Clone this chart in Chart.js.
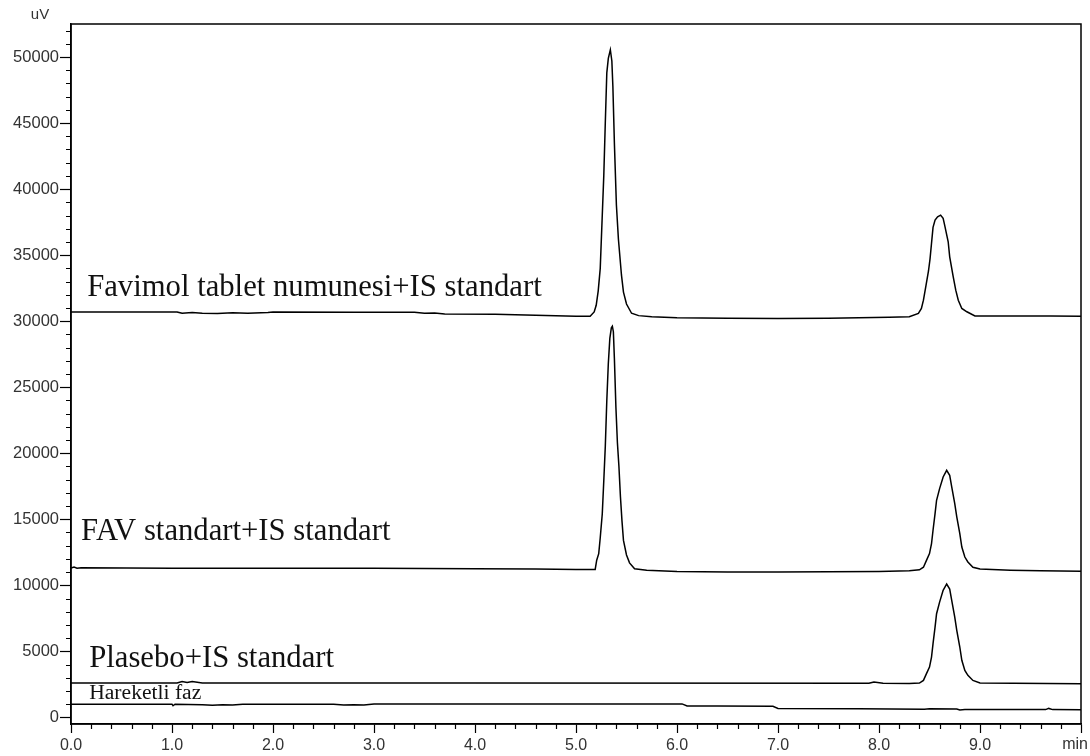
<!DOCTYPE html>
<html>
<head>
<meta charset="utf-8">
<script src="https://cdn.jsdelivr.net/npm/chart.js@4.4.1/dist/chart.umd.min.js"></script>
<style>
  html, body { margin: 0; padding: 0; background: #fff; }
  #wrap { width: 1090px; height: 756px; position: relative; }
</style>
</head>
<body>
<div id="wrap"><canvas id="c"></canvas></div>
<script>
// ---- data (time in min, signal in uV) ----
const favimolT = [0, 0.5, 1.05, 1.1, 1.2, 1.3, 1.45, 1.6, 1.75, 1.95, 2.0, 2.8, 3.4, 3.5, 3.6, 3.7, 4.2, 4.6, 5.0, 5.14,
  5.18, 5.20, 5.22, 5.24, 5.26, 5.275, 5.29, 5.305, 5.32, 5.34, 5.355, 5.365, 5.38, 5.40, 5.42, 5.45, 5.47, 5.50, 5.55, 5.62,
  5.75, 6.0, 6.5, 7.0, 7.5, 7.8, 8.1, 8.3, 8.39, 8.42, 8.44, 8.465, 8.49, 8.505, 8.52, 8.535, 8.555, 8.58, 8.61, 8.635,
  8.65, 8.685, 8.70, 8.735, 8.76, 8.785, 8.82, 8.87, 8.95, 9.3, 9.7, 10.0];
const favimolV = [30700, 30700, 30700, 30600, 30650, 30600, 30580, 30640, 30600, 30650, 30700, 30680, 30680, 30600, 30620, 30550, 30530, 30450, 30380, 30380,
  30700, 31200, 32300, 34000, 38000, 41000, 45000, 48800, 49900, 50550, 49700, 47800, 43500, 38800, 36200, 33500, 32200, 31300, 30600, 30420,
  30330, 30250, 30220, 30200, 30230, 30260, 30300, 30330, 30580, 30960, 31590, 32700, 33800, 34700, 35900, 37100, 37650, 37900, 38030, 37780,
  37270, 36010, 34870, 33360, 32350, 31590, 30960, 30710, 30400, 30400, 30400, 30380];

const favT = [0, 0.03, 0.06, 0.1, 1.0, 2.0, 3.0, 4.0, 4.6, 5.0, 5.19, 5.205, 5.225, 5.24, 5.26, 5.275, 5.29, 5.305, 5.32, 5.335,
  5.35, 5.36, 5.37, 5.38, 5.395, 5.41, 5.425, 5.44, 5.455, 5.47, 5.50, 5.53, 5.58, 5.70, 6.0, 6.5, 7.0, 7.5, 8.0, 8.3,
  8.40, 8.44, 8.47, 8.50, 8.52, 8.535, 8.555, 8.57, 8.60, 8.635, 8.67, 8.70, 8.72, 8.75, 8.77, 8.80, 8.82, 8.85, 8.88, 8.93,
  9.0, 9.3, 9.6, 10.0];
const favV = [11300, 11380, 11300, 11330, 11300, 11290, 11290, 11260, 11230, 11200, 11200, 11900, 12400, 13600, 15400, 17900, 20500, 24000, 26800, 28700,
  29500, 29620, 29200, 27200, 23500, 20800, 19000, 16700, 14900, 13400, 12300, 11700, 11250, 11150, 11050, 11000, 11000, 11020, 11050, 11100,
  11170, 11370, 11890, 12400, 13160, 14170, 15430, 16440, 17320, 18200, 18710, 18330, 17450, 16190, 15180, 13910, 12900, 12140, 11770, 11370,
  11240, 11150, 11100, 11060];

const plaseboT = [0, 1.05, 1.1, 1.15, 1.2, 1.3, 4.0, 7.9, 7.95, 8.04, 8.3, 8.40, 8.44, 8.47, 8.50, 8.52, 8.535, 8.555, 8.57, 8.60,
  8.635, 8.67, 8.70, 8.72, 8.75, 8.77, 8.80, 8.82, 8.85, 8.88, 8.93, 9.0, 10.0];
const plaseboV = [2600, 2600, 2720, 2650, 2720, 2600, 2600, 2580, 2680, 2580, 2560, 2600, 2800, 3310, 3810, 4570, 5580, 6840, 7850, 8730,
  9620, 10100, 9720, 8860, 7600, 6590, 5330, 4320, 3560, 3180, 2800, 2600, 2550];

const mobileT = [0, 1.0, 1.01, 1.03, 1.3, 1.4, 1.5, 1.6, 1.7, 2.6, 2.7, 2.8, 2.9, 3.0, 6.05, 6.1, 6.4, 6.95, 7.0, 7.8,
  8.45, 8.5, 8.77, 8.8, 8.85, 9.65, 9.68, 9.72, 10.0];
const mobileV = [1000, 1000, 880, 1000, 950, 920, 960, 930, 1000, 990, 940, 960, 930, 1020, 1020, 860, 860, 840, 680, 650,
  620, 650, 640, 560, 590, 590, 680, 590, 580];

const traceLabels = ["Favimol tablet numunesi+IS standart", "FAV standart+IS standart", "Plasebo+IS standart", "Hareketli faz"];
const xTickValues = [0, 0.2, 0.4, 0.6, 0.8, 1, 1.2, 1.4, 1.6, 1.8, 2, 2.2, 2.4, 2.6, 2.8, 3, 3.2, 3.4, 3.6, 3.8, 4, 4.2, 4.4, 4.6, 4.8,
  5, 5.2, 5.4, 5.6, 5.8, 6, 6.2, 6.4, 6.6, 6.8, 7, 7.2, 7.4, 7.6, 7.8, 8, 8.2, 8.4, 8.6, 8.8, 9, 9.2, 9.4, 9.6, 9.8, 10];
const xUnit = "min";
const yUnit = "uV";

// ---- helpers ----
const toPts = (T, V) => T.map((t, i) => ({ x: t, y: V[i] }));
const isMajorX = v => Math.abs(v - Math.round(v)) < 1e-6;
const isMajorY = v => v % 5000 === 0;
const TICK_FONT = '"Liberation Sans", Arial, sans-serif';

// label placement (data coords) and sizes – presentation only
const labelPlacement = [
  { t: 0.16, v: 31890, size: 30.7 },
  { t: 0.10, v: 13410, size: 30.7 },
  { t: 0.18, v: 3810, size: 30.7 },
  { t: 0.18, v: 1380, size: 21.6 }
];

const decorPlugin = {
  id: 'decor',
  afterDraw(chart) {
    const { ctx, chartArea: a, scales: { x, y } } = chart;
    ctx.save();
    ctx.strokeStyle = '#000';
    ctx.lineWidth = 1.5;
    // frame
    ctx.strokeRect(a.left, a.top, a.right - a.left, a.bottom - a.top);
    // minor ticks
    ctx.lineWidth = 1.2;
    ctx.beginPath();
    x.ticks.forEach(tk => {
      if (!isMajorX(tk.value)) {
        const px = Math.round(x.getPixelForValue(tk.value)) + 0.5;
        ctx.moveTo(px, a.bottom); ctx.lineTo(px, a.bottom + 5);
      }
    });
    y.ticks.forEach(tk => {
      if (!isMajorY(tk.value)) {
        const py = Math.round(y.getPixelForValue(tk.value)) + 0.5;
        ctx.moveTo(a.left, py); ctx.lineTo(a.left - 5, py);
      }
    });
    ctx.stroke();
    // unit labels
    ctx.fillStyle = '#333';
    ctx.font = '15px ' + TICK_FONT;
    ctx.textAlign = 'center';
    ctx.textBaseline = 'middle';
    ctx.fillText(yUnit, a.left - 31, a.top - 9);
    ctx.font = '16px ' + TICK_FONT;
    ctx.textAlign = 'right';
    ctx.fillText(xUnit, x.getPixelForValue(10) + 7, a.bottom + 21);
    // trace labels
    ctx.fillStyle = '#111';
    ctx.textAlign = 'left';
    ctx.textBaseline = 'alphabetic';
    traceLabels.forEach((txt, i) => {
      const p = labelPlacement[i];
      ctx.font = p.size + 'px "Liberation Serif", "Times New Roman", serif';
      ctx.fillText(txt, x.getPixelForValue(p.t), y.getPixelForValue(p.v));
    });
    ctx.restore();
  }
};

const lineStyle = { showLine: true, borderColor: '#000', borderWidth: 1.5, pointRadius: 0, tension: 0, fill: false };

new Chart(document.getElementById('c'), {
  type: 'scatter',
  data: {
    datasets: [
      { label: traceLabels[0], data: toPts(favimolT, favimolV), ...lineStyle },
      { label: traceLabels[1], data: toPts(favT, favV), ...lineStyle },
      { label: traceLabels[2], data: toPts(plaseboT, plaseboV), ...lineStyle },
      { label: traceLabels[3], data: toPts(mobileT, mobileV), ...lineStyle }
    ]
  },
  options: {
    responsive: true,
    maintainAspectRatio: false,
    animation: false,
    layout: { padding: { top: 24, right: 9, left: 0, bottom: 0 } },
    plugins: { legend: { display: false }, tooltip: { enabled: false } },
    scales: {
      x: {
        type: 'linear', min: 0, max: 10,
        afterBuildTicks: s => { s.ticks = xTickValues.map(v => ({ value: v })); },
        afterFit: s => { s.height = 32; s.paddingLeft = 0; s.paddingRight = 0; },
        ticks: {
          autoSkip: false, maxRotation: 0, minRotation: 0, padding: 3,
          color: '#333',
          font: { family: TICK_FONT, size: 16 },
          callback: v => (isMajorX(v) && Math.round(v) < 10) ? v.toFixed(1) : ''
        },
        grid: {
          drawOnChartArea: false, drawTicks: true, tickLength: 9, tickWidth: 1.2,
          tickColor: c => (c.tick && isMajorX(c.tick.value)) ? '#000' : 'rgba(0,0,0,0)'
        },
        border: { color: '#000', width: 1.5 }
      },
      y: {
        type: 'linear', min: -500, max: 52500,
        afterBuildTicks: s => { const t = []; for (let v = 0; v <= 52000; v += 1000) t.push({ value: v }); s.ticks = t; },
        afterFit: s => { s.width = 71; s.paddingTop = 0; s.paddingBottom = 0; },
        ticks: {
          autoSkip: false, padding: 1,
          color: '#333',
          font: { family: TICK_FONT, size: 16.5 },
          callback: v => isMajorY(v) ? String(v) : ''
        },
        grid: {
          drawOnChartArea: false, drawTicks: true, tickLength: 11, tickWidth: 1.2,
          tickColor: c => (c.tick && isMajorY(c.tick.value)) ? '#000' : 'rgba(0,0,0,0)'
        },
        border: { color: '#000', width: 1.5 }
      }
    }
  },
  plugins: [decorPlugin]
});
</script>
</body>
</html>
